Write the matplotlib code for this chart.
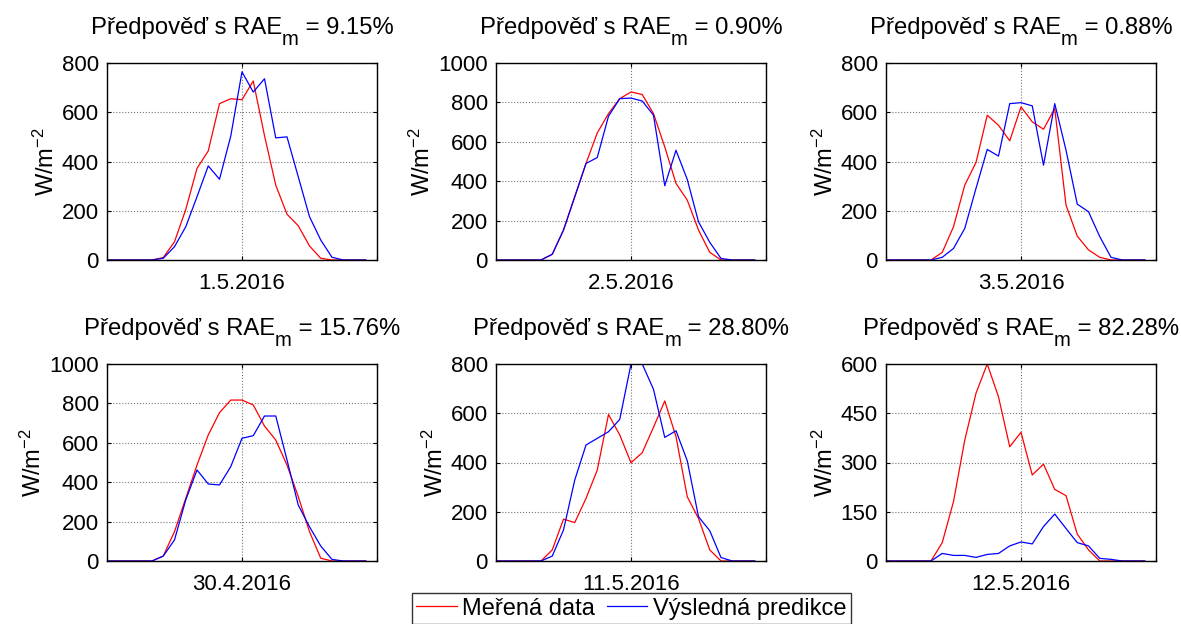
import matplotlib
matplotlib.use("Agg")
import matplotlib.pyplot as plt
import numpy as np

plt.rcParams['font.family'] = ['Liberation Sans', 'DejaVu Sans']
plt.rcParams['mathtext.fontset'] = 'custom'
plt.rcParams['mathtext.rm'] = 'Liberation Sans'
plt.rcParams['mathtext.it'] = 'Liberation Sans'
plt.rcParams['mathtext.default'] = 'regular'

hours = list(range(24))

dates = ["1.5.2016", "2.5.2016", "3.5.2016", "30.4.2016", "11.5.2016", "12.5.2016"]
rae = ["9.15", "0.90", "0.88", "15.76", "28.80", "82.28"]
ylims = [800, 1000, 800, 1000, 800, 600]
ytick_steps = [200, 200, 200, 200, 200, 150]

measured = [
    [0, 0, 0, 0, 0, 10, 74, 205, 372, 443, 635, 655, 651, 727, 505, 304, 186, 139, 57, 7, 0, 0, 0, 0],
    [0, 0, 0, 0, 0, 29, 152, 321, 490, 645, 743, 819, 853, 840, 743, 574, 389, 304, 152, 39, 0, 0, 0, 0],
    [0, 0, 0, 0, 0, 31, 135, 304, 396, 588, 547, 484, 622, 561, 531, 615, 223, 97, 41, 11, 0, 0, 0, 0],
    [0, 0, 0, 0, 0, 25, 149, 318, 487, 640, 753, 817, 817, 792, 685, 614, 487, 327, 149, 14, 0, 0, 0, 0],
    [0, 0, 0, 0, 0, 45, 170, 156, 254, 369, 595, 512, 399, 440, 543, 650, 505, 261, 173, 45, 0, 0, 0, 0],
    [0, 0, 0, 0, 0, 56, 181, 368, 511, 600, 500, 348, 392, 262, 295, 218, 199, 82, 34, 0, 0, 0, 0, 0],
]

predicted = [
    [0, 0, 0, 0, 0, 7, 54, 135, 257, 382, 328, 503, 764, 682, 736, 496, 500, 338, 176, 81, 11, 0, 0, 0],
    [0, 0, 0, 0, 0, 29, 152, 321, 490, 520, 730, 819, 822, 807, 735, 377, 557, 409, 194, 90, 8, 0, 0, 0],
    [0, 0, 0, 0, 0, 11, 47, 128, 291, 449, 422, 635, 639, 626, 385, 635, 446, 227, 196, 95, 11, 0, 0, 0],
    [0, 0, 0, 0, 0, 25, 107, 310, 462, 391, 386, 479, 623, 636, 736, 736, 513, 284, 174, 76, 8, 0, 0, 0],
    [0, 0, 0, 0, 0, 20, 126, 329, 471, 498, 525, 575, 800, 800, 697, 502, 529, 407, 180, 123, 14, 0, 0, 0],
    [0, 0, 0, 0, 0, 23, 17, 17, 11, 20, 23, 46, 58, 52, 105, 143, 99, 56, 46, 8, 5, 0, 0, 0],
]

legend_labels = ["Meřená data", "Výsledná predikce"]

W, H = 1181, 624
fig = plt.figure(figsize=(W / 100, H / 100), dpi=100)
renderer = fig.canvas.get_renderer()

lefts = [107, 496, 886]
tops = [63, 364]
aw, ah = 270, 197
FS = 16
TFS = 17.2


def px(x, y):
    return x / W, 1 - y / H


def text_width(s, size):
    t = fig.text(0, 0, s, fontsize=size)
    w = t.get_window_extent(renderer=renderer).width
    t.remove()
    return w


for k in range(6):
    r, c = divmod(k, 3)
    ax = fig.add_axes([lefts[c] / W, 1 - (tops[r] + ah) / H, aw / W, ah / H])
    l1, = ax.plot(hours, measured[k], color='#ff0000', lw=0.9)
    l2, = ax.plot(hours, predicted[k], color='#0000ff', lw=0.9)
    ax.set_xlim(0, 24)
    ax.set_ylim(0, ylims[k])
    ax.set_xticks([0, 12, 24])
    ax.set_xticklabels([])
    ax.set_yticks(np.arange(0, ylims[k] + 1, ytick_steps[k]))
    ax.tick_params(direction='in', top=True, right=True, labelsize=FS, length=3, width=0.8, pad=6)
    ax.grid(True, linestyle=':', color='#777777', linewidth=0.8)
    for s in ax.spines.values():
        s.set_linewidth(1.0)
    ax.set_xlabel(dates[k], fontsize=FS, labelpad=3)
    ax.set_ylabel("W/m$^{-2}$", fontsize=17, labelpad=2)

    # title composed of pieces with a large, low subscript (MATLAB style)
    p1 = "Předpověď s RAE"
    p2 = "m"
    p3 = " = " + rae[k] + "%"
    sub_size = TFS * 0.85
    w1 = text_width(p1, TFS)
    w2 = text_width(p2, sub_size)
    w3 = text_width(p3, TFS)
    cx = lefts[c] + aw / 2
    x0 = cx - (w1 + w2 + w3) / 2
    base = tops[r] - 29
    fig.text(*px(x0, base), p1, fontsize=TFS, va='baseline', ha='left')
    fig.text(*px(x0 + w1, base + 11), p2, fontsize=sub_size, va='baseline', ha='left')
    fig.text(*px(x0 + w1 + w2, base), p3, fontsize=TFS, va='baseline', ha='left')

leg = fig.legend([l1, l2], legend_labels, loc='upper center', bbox_to_anchor=(631.5 / W, 1 - 593 / H),
                 ncol=2, fontsize=17, frameon=True, fancybox=False, edgecolor='black',
                 handlelength=1.7, handletextpad=0.25, columnspacing=0.5, borderpad=0.2,
                 borderaxespad=0)
leg.get_frame().set_linewidth(1.0)

fig.savefig("out.png", dpi=100)
